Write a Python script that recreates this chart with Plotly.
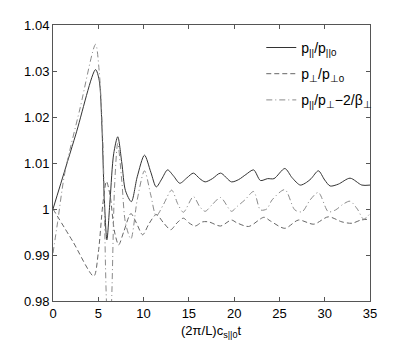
import plotly.graph_objects as go

# p_par / p_par0 (solid)
t_par = [0, 2.5, 4.7, 5.1, 5.4, 5.65, 5.95, 6.3, 6.7, 7.15, 7.6, 8.0, 8.65, 9.3, 10.1,
         10.8, 11.4, 12.0, 12.65, 13.3, 14.0, 14.8, 15.5, 16.2, 16.8, 17.6, 18.5, 19.7,
         20.5, 21.3, 22.15, 22.9, 23.7, 24.4, 25.6, 26.4, 27.3, 28.0, 28.5, 29.3, 30.0,
         30.6, 31.5, 32.8, 34.1, 35]
v_par = [1.0000, 1.0161, 1.0303, 1.0280, 1.0180, 1.0030, 0.9933, 1.0020, 1.0120, 1.0157,
         1.0100, 1.0040, 1.0016, 1.0070, 1.0117, 1.0080, 1.0048, 1.0065, 1.0085, 1.0072,
         1.0056, 1.0068, 1.0078, 1.0066, 1.0059, 1.0066, 1.0078, 1.0059, 1.0064, 1.0075,
         1.0085, 1.0062, 1.0066, 1.0066, 1.0088, 1.0068, 1.0052, 1.0058, 1.0066, 1.0083,
         1.0063, 1.0050, 1.0054, 1.0067, 1.0052, 1.0052]

# p_perp / p_perp0 (dashed)
t_perp = [0, 2.2, 4.5, 5.0, 5.5, 5.9, 6.3, 6.8, 7.25, 7.8, 8.6, 9.2, 9.9, 10.6, 11.4,
          12.2, 13.0, 13.7, 14.4, 15.0, 15.7, 16.5, 17.2, 18.5, 19.7, 20.3, 21.6, 23.3,
          24.0, 25.6, 27.1, 28.8, 30.4, 31.9, 33.0, 34.0, 35]
v_perp = [1.0000, 0.9929, 0.9854, 0.9905, 1.0010, 1.0060, 1.0030, 0.9950, 0.9922, 0.9950,
          0.9990, 0.9970, 0.9944, 0.9968, 0.9988, 0.9970, 0.9955, 0.9970, 0.9980, 0.9970,
          0.9963, 0.9972, 0.9972, 0.9963, 0.9976, 0.9970, 0.9962, 0.9982, 0.9974, 0.9958,
          0.9976, 0.9967, 0.9983, 0.9972, 0.9969, 0.9976, 0.9978]

# p_par/p_perp - 2/beta_perp (dash-dot)
t_mix = [0, 0.5, 1.3, 3.0, 4.7, 5.1, 5.5, 5.9, 6.2, 6.47, 6.8, 7.15, 7.6, 8.0, 8.6, 9.3,
         10.1, 10.8, 11.4, 12.2, 13.1, 13.8, 14.4, 15.5, 16.2, 16.8, 17.6, 18.5, 19.7,
         20.3, 21.2, 22.15, 22.9, 23.6, 24.2, 25.6, 26.7, 27.5, 28.4, 29.3, 30.4, 31.2,
         32.0, 32.8, 33.6, 34.3, 35]
v_mix = [0.9904, 0.9970, 1.0078, 1.0220, 1.0358, 1.0300, 1.0150, 0.9800, 0.9700, 0.9800,
         1.0050, 1.0143, 1.0060, 0.9970, 0.9935, 1.0020, 1.0083, 1.0030, 0.9985, 1.0010,
         1.0041, 1.0010, 0.9993, 1.0027, 1.0005, 0.9995, 1.0010, 1.0025, 0.9995, 1.0005,
         1.0020, 1.0038, 0.9998, 1.0000, 1.0020, 1.0042, 0.9998, 0.9994, 1.0020, 1.0036,
         0.9994, 0.9998, 1.0010, 1.0017, 1.0000, 0.9978, 0.9990]

x_ticks = [0, 5, 10, 15, 20, 25, 30, 35]
y_ticks = [0.98, 0.99, 1.00, 1.01, 1.02, 1.03, 1.04]
y_tick_text = ["0.98", "0.99", "1", "1.01", "1.02", "1.03", "1.04"]

names = ["p<sub>||</sub>/p<sub>||0</sub>",
         "p<sub>⊥</sub>/p<sub>⊥0</sub>",
         "p<sub>||</sub>/p<sub>⊥</sub>−2/β<sub>⊥</sub>"]
x_title = "(2π/L)c<sub>s||0</sub>t"

FONT = "Liberation Sans, Arial, Helvetica"

fig = go.Figure()
fig.add_trace(go.Scatter(x=t_par, y=v_par, mode="lines", name=names[0], legendgroup="a",
                         line=dict(color="#333333", width=1, shape="spline", smoothing=0.8)))
fig.add_trace(go.Scatter(x=t_perp, y=v_perp, mode="lines", name=names[1], legendgroup="b",
                         line=dict(color="#666666", width=1, dash="5px,3px", shape="spline", smoothing=0.8)))
fig.add_trace(go.Scatter(x=t_mix, y=v_mix, mode="lines", name=names[2], legendgroup="c",
                         line=dict(color="#8a8a8a", width=1, dash="6px,3px,1px,3px", shape="spline", smoothing=0.8)))

axis_common = dict(showline=True, linecolor="#555555", linewidth=1, mirror="ticks",
                   ticks="inside", ticklen=4, tickcolor="#555555", showgrid=False,
                   zeroline=False, automargin=False,
                   tickfont=dict(family=FONT, size=13, color="black"))

fig.update_xaxes(range=[0, 35], tickvals=x_ticks, **axis_common)
fig.update_yaxes(range=[0.98, 1.04], tickvals=y_ticks, ticktext=y_tick_text, **axis_common)

fig.add_annotation(text=x_title, xref="paper", yref="paper", x=0.5, y=-0.072,
                   xanchor="center", yanchor="top", showarrow=False,
                   font=dict(family=FONT, size=13, color="black"))

fig.update_layout(
    width=408, height=346,
    margin=dict(l=45, r=46, t=17, b=53, autoexpand=False),
    paper_bgcolor="white", plot_bgcolor="white",
    font=dict(family=FONT, size=13, color="black"),
    legend=dict(x=0.657, y=0.975, xanchor="left", yanchor="top", bgcolor="rgba(0,0,0,0)",
                borderwidth=0, font=dict(family=FONT, size=14, color="black"),
                tracegroupgap=5, itemwidth=30),
)

fig.write_html("out.html")
